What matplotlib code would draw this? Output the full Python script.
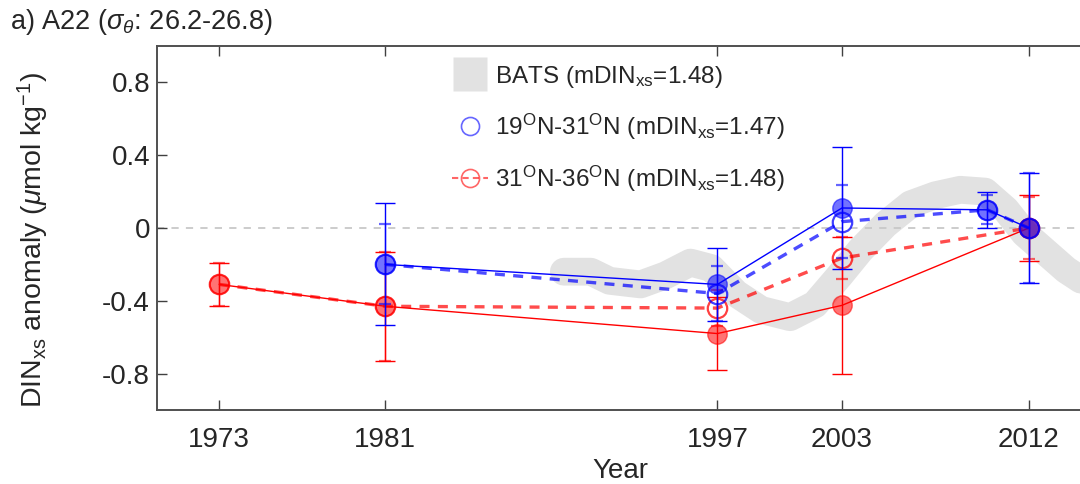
import numpy as np
import matplotlib
matplotlib.use('Agg')
import matplotlib.pyplot as plt
from matplotlib.lines import Line2D

plt.rcParams['font.family'] = ['Liberation Sans', 'DejaVu Sans']
plt.rcParams['mathtext.fontset'] = 'custom'
plt.rcParams['mathtext.rm'] = 'Liberation Sans'
plt.rcParams['mathtext.it'] = 'Liberation Sans:italic'

#%% Data

# BATS smoothed series (grey band)
bats_year = [1989.6, 1990.9, 1991.8, 1993.3, 1994.5, 1995.7, 1996.7, 1997.9, 1999.1,
             2000.5, 2001.7, 2002.9, 2003.9, 2005.1, 2006.3, 2007.5, 2008.7, 2009.9,
             2010.9, 2011.8, 2012.8, 2013.8, 2014.6]
bats_val = [-0.24, -0.24, -0.29, -0.31, -0.26, -0.19, -0.22, -0.36, -0.45,
            -0.49, -0.42, -0.26, -0.12, 0.02, 0.13, 0.18, 0.21, 0.20,
            0.10, -0.03, -0.13, -0.23, -0.29]

# 19N-31N
blue_year = [1981, 1997, 2003, 2010, 2012]
blue_fill = [-0.20, -0.31, 0.11, 0.10, 0.0]
blue_fill_err = [0.335, 0.20, 0.335, 0.10, 0.30]
blue_open = [-0.20, -0.36, 0.035, 0.10, 0.0]
blue_open_err = [0.22, 0.15, 0.20, 0.08, 0.30]

# 31N-36N
red_year = [1973, 1981, 1997, 2003, 2012]
red_fill = [-0.31, -0.43, -0.58, -0.425, 0.0]
red_fill_err = [0.12, 0.30, 0.20, 0.375, 0.18]
red_open = [-0.31, -0.43, -0.44, -0.165, 0.0]
red_open_err = [0.12, 0.30, 0.10, 0.115, 0.17]

xticks = [1973, 1981, 1997, 2003, 2012]
yticks = [-0.8, -0.4, 0, 0.4, 0.8]
yticklabels = ['-0.8', '-0.4', '0', '0.4', '0.8']

#%% Plot

fig = plt.figure(figsize=(10.8, 4.84), dpi=100)
ax = fig.add_axes([0.1454, 0.1529, 0.8648, 0.752])

grey = '#e2e2e2'
ax.plot(bats_year, bats_val, color=grey, lw=20, solid_capstyle='round',
        solid_joinstyle='round', zorder=1)
ax.axhline(0, color='#c8c8c8', ls=(0, (4, 4)), lw=1.3, zorder=1.5)

red = (1, 0, 0)
blue = (0, 0, 1)

# red series
ax.errorbar(red_year, red_open, yerr=red_open_err, fmt='o', mfc='none',
            mec=(1, 0, 0, 0.75), ms=14, mew=1.6, ecolor=(1, 0, 0, 0.6),
            elinewidth=1, capsize=4, capthick=1, zorder=3)
ax.plot(red_year, red_open, ls=(0, (3, 2.5)), color=red, alpha=0.7, lw=2.4, zorder=3)
ax.errorbar(red_year, red_fill, yerr=red_fill_err, fmt='o', mfc=(1, 0, 0, 0.55),
            mec=(1, 0, 0, 0.55), ms=14, ecolor=red, elinewidth=1, capsize=7,
            capthick=1, zorder=4)
ax.plot(red_year, red_fill, '-', color=red, lw=1, zorder=4)

# blue series
ax.errorbar(blue_year, blue_open, yerr=blue_open_err, fmt='o', mfc='none',
            mec=(0, 0, 1, 0.75), ms=14, mew=1.6, ecolor=(0, 0, 1, 0.6),
            elinewidth=1, capsize=4, capthick=1, zorder=5)
ax.plot(blue_year, blue_open, ls=(0, (3, 2.5)), color=blue, alpha=0.7, lw=2.4, zorder=5)
ax.errorbar(blue_year, blue_fill, yerr=blue_fill_err, fmt='o', mfc=(0, 0, 1, 0.55),
            mec=(0, 0, 1, 0.55), ms=14, ecolor=blue, elinewidth=1, capsize=7,
            capthick=1, zorder=6)
ax.plot(blue_year, blue_fill, '-', color=blue, lw=1, zorder=6)

ax.set_xlim(1970, 2015)
ax.set_ylim(-1, 1)
ax.set_xticks(xticks)
ax.set_yticks(yticks)
ax.set_yticklabels(yticklabels)
ax.tick_params(direction='in', length=7, width=1, colors='#404040', labelcolor='#262626',
               labelsize=20, top=True, right=True)
ax.tick_params(axis='x', pad=12)
ax.tick_params(axis='y', pad=5)
for s in ax.spines.values():
    s.set_color('#505050')
    s.set_linewidth(1.4)

handles = [Line2D([], [], ls='none', marker='s', mfc=grey, mec='none', ms=25),
           Line2D([], [], ls='none', marker='o', mfc='none', mec=(0, 0, 1, 0.6), ms=13, mew=1.2),
           Line2D([], [], ls=(0, (3, 2)), color=(1, 0, 0, 0.6), lw=1.5, marker='o', mfc='none',
                  mec=(1, 0, 0, 0.6), ms=13, mew=1.2)]
labels = [r'BATS (mDIN$_{\rm xs}$=1.48)',
          r'19$^{\rm O}$N-31$^{\rm O}$N (mDIN$_{\rm xs}$=1.47)',
          r'31$^{\rm O}$N-36$^{\rm O}$N (mDIN$_{\rm xs}$=1.48)']
leg = ax.legend(handles, labels, loc='upper left', bbox_to_anchor=(0.305, 0.978),
                frameon=False, fontsize=17.5, handlelength=1.5, handletextpad=0.3,
                labelspacing=0.9, borderaxespad=0)
for t in leg.get_texts():
    t.set_color('#262626')

fig.text(0.009, 0.955, r'a) A22 ($\sigma_\theta$: 26.2-26.8)', fontsize=19.5,
         va='center', ha='left', color='#262626')
fig.text(0.031, 0.505, r'DIN$_{\rm xs}$ anomaly ($\mu$mol kg$^{-1}$)', fontsize=20.5,
         rotation=90, va='center', ha='center', color='#262626')
fig.text(0.574, 0.026, 'Year', fontsize=20, va='center', ha='center', color='#262626')

plt.savefig('out.png', dpi=100)
